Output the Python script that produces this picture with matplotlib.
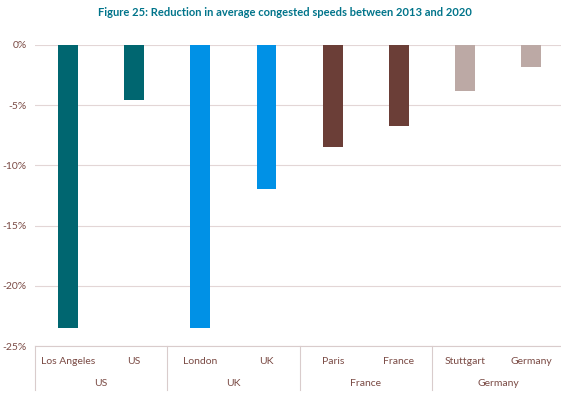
import matplotlib.pyplot as plt
from matplotlib.ticker import FuncFormatter
import matplotlib.transforms as mtransforms

# values (percentage change in congested speed)
places = ['Los Angeles', 'US', 'London', 'UK', 'Paris', 'France', 'Stuttgart', 'Germany']
groups = ['US', 'UK', 'France', 'Germany']
values = [-23.5, -4.6, -23.5, -12.0, -8.5, -6.7, -3.8, -1.8]
colors = ['#006670', '#006670', '#0091E6', '#0091E6',
          '#6B3E37', '#6B3E37', '#BCA9A5', '#BCA9A5']

plt.rcParams['font.family'] = ['Lato', 'DejaVu Sans']
txt_col = '#7A4A44'
grid_col = '#E3D6D6'

fig = plt.figure(figsize=(5.61, 3.98), dpi=100)
ax = fig.add_axes([35 / 561, 1 - 346 / 398, 1 - 35 / 561, (346 - 45) / 398])

x = list(range(len(places)))
ax.bar(x, values, width=0.3, color=colors, zorder=3)

ax.set_ylim(-25, 0)
ax.set_xlim(-0.5, 7.45)
ax.set_yticks([0, -5, -10, -15, -20, -25])
ax.yaxis.set_major_formatter(FuncFormatter(lambda v, p: f'{v:.0f}%'))
ax.tick_params(axis='y', length=0, labelsize=7.5, labelcolor=txt_col, pad=6)
ax.set_xticks([])
ax.grid(axis='y', color=grid_col, linewidth=0.8, zorder=0)
for s in ax.spines.values():
    s.set_visible(False)

# category box under the axis
trans = mtransforms.blended_transform_factory(ax.transData, ax.transAxes)
ax.plot([-0.5, 7.45], [0, 0], transform=trans, color='#D9CCCC', lw=0.8, clip_on=False)
for sep in [-0.5, 1.5, 3.5, 5.5]:
    ax.plot([sep, sep], [0, -0.145], transform=trans, color='#D9CCCC', lw=0.8, clip_on=False)

for xi, name in zip(x, places):
    ax.text(xi, -0.05, name, transform=trans, ha='center', va='center',
            fontsize=7.5, color=txt_col)
for gi, g in enumerate(groups):
    ax.text(gi * 2 + 0.5, -0.123, g, transform=trans, ha='center', va='center',
            fontsize=7.5, color=txt_col)

fig.text(285 / 561, 1 - 13 / 398, 'Figure 25: Reduction in average congested speeds between 2013 and 2020',
         ha='center', va='center', fontsize=8, fontweight='bold', color='#00748A')

fig.savefig('out.png', dpi=100)
